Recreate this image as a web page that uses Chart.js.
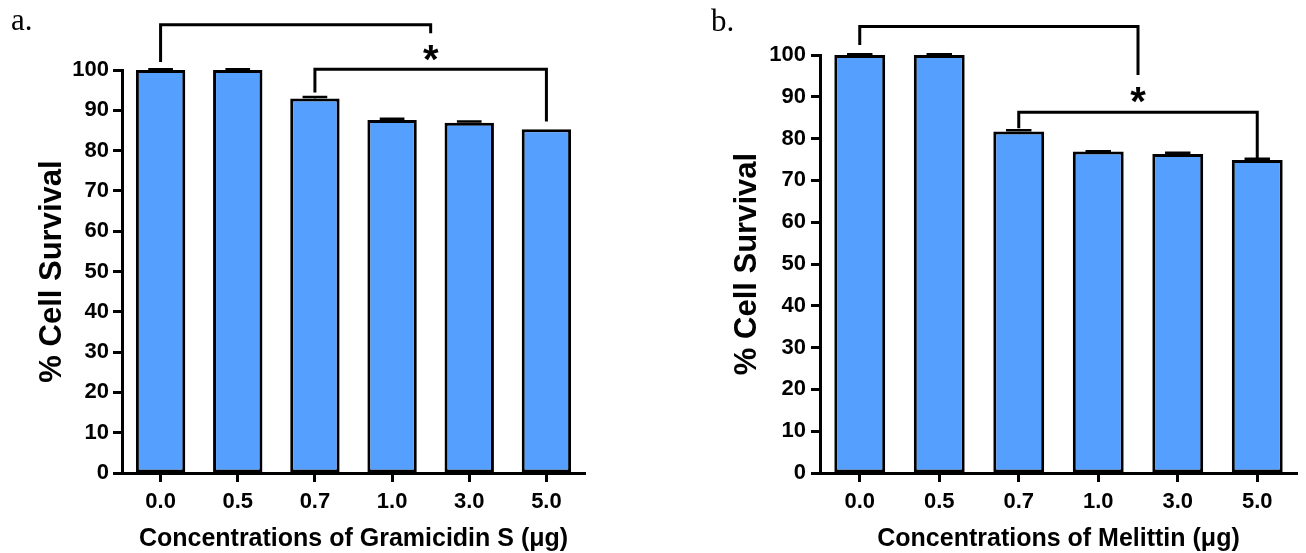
<!DOCTYPE html>
<html>
<head>
<meta charset="utf-8">
<script src="https://cdn.jsdelivr.net/npm/chart.js@4.4.1/dist/chart.umd.min.js"></script>
<style>
  html, body { margin: 0; padding: 0; background: #fff; }
  body { width: 1306px; height: 553px; position: relative; overflow: hidden; }
  canvas { position: absolute; top: 0; }
  #cA { left: 0; }
  #cB { left: 653px; }
</style>
</head>
<body>
<canvas id="cA" width="653" height="553"></canvas>
<canvas id="cB" width="653" height="553"></canvas>
<script>
// ---- data ----
const categories = ['0.0', '0.5', '0.7', '1.0', '3.0', '5.0'];
const yTicks = [0, 10, 20, 30, 40, 50, 60, 70, 80, 90, 100];

const gramicidinMeans = [100, 100, 92.9, 87.6, 86.9, 85.3];
const gramicidinErr   = [0.2, 0.2, 0.4, 0.3, 0.3, 0];

const melittinMeans = [100, 100, 81.7, 76.9, 76.3, 74.9];
const melittinErr   = [0.2, 0.2, 0.3, 0.05, 0.3, 0.3];

// significance brackets (category index / value units)
const gramicidinBrackets = [
  { from: 0, to: 3.5, level: 111.2, fromEnd: 102.0, toEnd: 109.1 },
  { from: 2, to: 5, level: 100.2, fromEnd: 94.4, toEnd: 87.2 }
];
const gramicidinStar = { at: 3.5, value: 105.0 };

const melittinBrackets = [
  { from: 0, to: 3.5, level: 106.8, fromEnd: 102.4, toEnd: 95.2 },
  { from: 2, to: 5, level: 86.3, fromEnd: 82.5, toEnd: 75.1 }
];
const melittinStar = { at: 3.5, value: 91.2 };

const FONT = '"Liberation Sans", Arial, Helvetica, sans-serif';

const overlayPlugin = {
  id: 'overlay',
  afterDatasetsDraw(chart, args, opts) {
    const ctx = chart.ctx;
    const xs = chart.scales.x, ys = chart.scales.y;
    const meta = chart.getDatasetMeta(0);
    ctx.save();
    ctx.strokeStyle = '#000';
    ctx.lineCap = 'butt';
    // error bars
    ctx.lineWidth = 2.5;
    opts.errors.forEach((e, i) => {
      if (!e) return;
      const bar = meta.data[i];
      const yTop = ys.getPixelForValue(opts.means[i] + e);
      const yVal = ys.getPixelForValue(opts.means[i]);
      const hw = bar.width / 4;
      ctx.beginPath();
      ctx.moveTo(bar.x, yVal);
      ctx.lineTo(bar.x, yTop);
      ctx.moveTo(bar.x - hw, yTop);
      ctx.lineTo(bar.x + hw, yTop);
      ctx.stroke();
    });
    // brackets
    ctx.lineWidth = 3;
    opts.brackets.forEach(b => {
      const x1 = xs.getPixelForValue(b.from), x2 = xs.getPixelForValue(b.to);
      const yl = ys.getPixelForValue(b.level);
      ctx.beginPath();
      ctx.moveTo(x1, ys.getPixelForValue(b.fromEnd));
      ctx.lineTo(x1, yl);
      ctx.lineTo(x2, yl);
      ctx.lineTo(x2, ys.getPixelForValue(b.toEnd));
      ctx.stroke();
    });
    // star
    ctx.fillStyle = '#000';
    ctx.font = 'bold 40px ' + FONT;
    ctx.textAlign = 'center';
    ctx.textBaseline = 'alphabetic';
    ctx.fillText('*', xs.getPixelForValue(opts.star.at), ys.getPixelForValue(opts.star.value) + 0.58 * 40);
    // panel label
    ctx.font = '31px "Liberation Serif", "Times New Roman", serif';
    ctx.textAlign = 'left';
    ctx.fillText(opts.label, opts.labelX, opts.labelY);
    ctx.restore();
  }
};

function makeChart(id, means, errors, brackets, star, xTitle, label, geo) {
  return new Chart(document.getElementById(id), {
    type: 'bar',
    data: {
      labels: categories,
      datasets: [{
        data: means,
        backgroundColor: '#559ffe',
        borderColor: '#000',
        borderWidth: 3,
        borderSkipped: false,
        barPercentage: 0.64,
        categoryPercentage: 1.0
      }]
    },
    options: {
      responsive: false,
      animation: false,
      devicePixelRatio: 1,
      layout: { padding: { left: 0, right: geo.padRight, top: geo.padTop, bottom: 0 } },
      plugins: {
        legend: { display: false },
        tooltip: { enabled: false },
        overlay: { means, errors, brackets, star, label, labelX: geo.labelX, labelY: geo.labelY }
      },
      scales: {
        x: {
          type: 'category',
          offset: true,
          afterFit(s) { s.height = 80; },
          grid: { display: true, offset: false, drawOnChartArea: false, drawTicks: true, tickLength: 9, tickWidth: 3, tickColor: '#000' },
          border: { display: true, color: '#000', width: 3 },
          ticks: { color: '#000', padding: 7, font: { family: FONT, size: 22, weight: 'bold', lineHeight: 1.2 } },
          title: { display: true, text: xTitle, color: '#000', padding: { top: 0, bottom: 1 }, font: { family: FONT, size: 25, weight: 'bold', lineHeight: 1 } }
        },
        y: {
          min: 0, max: 100,
          afterFit(s) { s.width = geo.yWidth; },
          afterBuildTicks(s) { s.ticks = yTicks.map(v => ({ value: v })); },
          grid: { display: true, drawOnChartArea: false, drawTicks: true, tickLength: 9, tickWidth: 3, tickColor: '#000' },
          border: { display: true, color: '#000', width: 3 },
          ticks: { color: '#000', padding: geo.yTickPad, font: { family: FONT, size: 22, weight: 'bold', lineHeight: 1.2 } },
          title: { display: true, text: '% Cell Survival', color: '#000', padding: { top: geo.yTitlePad, bottom: 0 }, font: { family: FONT, size: 31, weight: 'bold', lineHeight: 1 } }
        }
      }
    },
    plugins: [overlayPlugin]
  });
}

makeChart('cA', gramicidinMeans, gramicidinErr, gramicidinBrackets, gramicidinStar,
  'Concentrations of Gramicidin S (\u03bcg)', 'a.',
  { padRight: 68, padTop: 70, yWidth: 122, yTickPad: 4, yTitlePad: 37, labelX: 11, labelY: 30 });

makeChart('cB', melittinMeans, melittinErr, melittinBrackets, melittinStar,
  'Concentrations of Melittin (\u03bcg)', 'b.',
  { padRight: 9, padTop: 55, yWidth: 167, yTickPad: 5, yTitlePad: 79, labelX: 58, labelY: 31 });
</script>
</body>
</html>
